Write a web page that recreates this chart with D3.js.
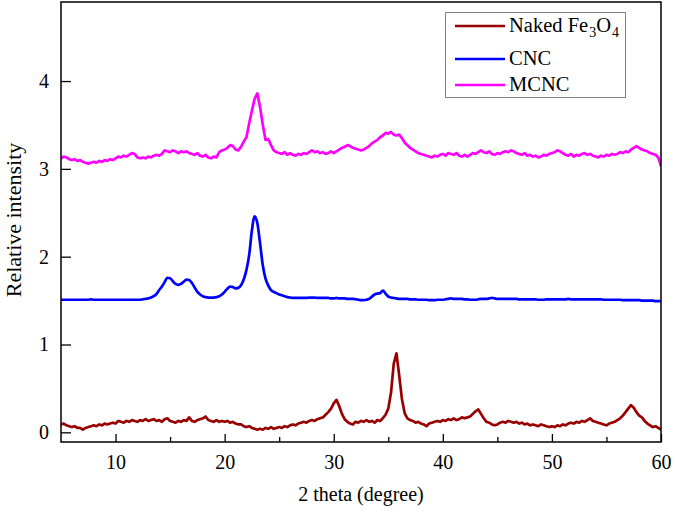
<!DOCTYPE html>
<html><head><meta charset="utf-8">
<script src="https://cdn.jsdelivr.net/npm/d3@7"></script>
<style>
html,body{margin:0;padding:0;background:#fff;}
svg{display:block;}
svg text{font-family:"Liberation Serif","DejaVu Serif","Times New Roman",Times,serif !important;}
</style></head>
<body><svg id="chart" width="675" height="519"></svg>
<script>
// x categories: 2 theta (degree), 5 to 60 in 0.25 steps
const twoTheta = [
5,5.25,5.5,5.75,6,6.25,6.5,6.75,7,7.25,7.5,7.75,8,8.25,8.5,8.75,9,9.25,9.5,9.75,
10,10.25,10.5,10.75,11,11.25,11.5,11.75,12,12.25,12.5,12.75,13,13.25,13.5,13.75,14,14.25,14.5,14.75,
15,15.25,15.5,15.75,16,16.25,16.5,16.75,17,17.25,17.5,17.75,18,18.25,18.5,18.75,19,19.25,19.5,19.75,
20,20.25,20.5,20.75,21,21.25,21.5,21.75,22,22.25,22.5,22.75,23,23.25,23.5,23.75,24,24.25,24.5,24.75,
25,25.25,25.5,25.75,26,26.25,26.5,26.75,27,27.25,27.5,27.75,28,28.25,28.5,28.75,29,29.25,29.5,29.75,
30,30.25,30.5,30.75,31,31.25,31.5,31.75,32,32.25,32.5,32.75,33,33.25,33.5,33.75,34,34.25,34.5,34.75,
35,35.25,35.5,35.75,36,36.25,36.5,36.75,37,37.25,37.5,37.75,38,38.25,38.5,38.75,39,39.25,39.5,39.75,
40,40.25,40.5,40.75,41,41.25,41.5,41.75,42,42.25,42.5,42.75,43,43.25,43.5,43.75,44,44.25,44.5,44.75,
45,45.25,45.5,45.75,46,46.25,46.5,46.75,47,47.25,47.5,47.75,48,48.25,48.5,48.75,49,49.25,49.5,49.75,
50,50.25,50.5,50.75,51,51.25,51.5,51.75,52,52.25,52.5,52.75,53,53.25,53.5,53.75,54,54.25,54.5,54.75,
55,55.25,55.5,55.75,56,56.25,56.5,56.75,57,57.25,57.5,57.75,58,58.25,58.5,58.75,59,59.25,59.5,59.75,
60];

const nakedFe3O4 = [
0.09,0.10,0.08,0.07, 0.06,0.07,0.05,0.05, 0.03,0.05,0.06,0.07, 0.08,0.07,0.09,0.08, 0.10,0.09,0.10,0.11,
0.10,0.13,0.12,0.11, 0.13,0.12,0.14,0.13, 0.12,0.14,0.13,0.15, 0.13,0.14,0.15,0.13, 0.14,0.12,0.15,0.16,
0.13,0.12,0.11,0.13, 0.12,0.14,0.13,0.17, 0.13,0.12,0.14,0.15, 0.16,0.18,0.14,0.13, 0.12,0.14,0.12,0.13,
0.12,0.13,0.11,0.12, 0.10,0.09,0.09,0.07, 0.06,0.07,0.05,0.04, 0.03,0.04,0.03,0.05, 0.04,0.06,0.04,0.05,
0.06,0.05,0.07,0.06, 0.08,0.09,0.08,0.10, 0.11,0.12,0.11,0.13, 0.14,0.13,0.15,0.16, 0.17,0.20,0.23,0.27,
0.33,0.37,0.30,0.21, 0.15,0.12,0.10,0.09, 0.12,0.11,0.13,0.12, 0.14,0.12,0.13,0.11, 0.14,0.13,0.16,0.20,
0.27,0.45,0.78,0.90, 0.65,0.38,0.22,0.16, 0.14,0.13,0.11,0.12, 0.10,0.09,0.07,0.10, 0.11,0.12,0.13,0.12,
0.14,0.13,0.15,0.14, 0.16,0.14,0.15,0.17, 0.16,0.17,0.18,0.21, 0.24,0.26,0.21,0.16, 0.12,0.11,0.09,0.08,
0.09,0.11,0.12,0.11, 0.13,0.12,0.11,0.12, 0.10,0.11,0.09,0.10, 0.08,0.09,0.08,0.07, 0.09,0.08,0.07,0.06,
0.07,0.06,0.08,0.07, 0.09,0.08,0.10,0.11, 0.10,0.12,0.11,0.13, 0.12,0.14,0.16,0.13, 0.12,0.11,0.10,0.09,
0.08,0.10,0.11,0.12, 0.14,0.16,0.19,0.23, 0.27,0.31,0.28,0.23, 0.19,0.17,0.13,0.10, 0.08,0.06,0.07,0.05,
0.03];

const cnc = [
1.51,1.51,1.51,1.51, 1.51,1.51,1.51,1.51, 1.51,1.51,1.51,1.515, 1.51,1.51,1.51,1.51, 1.51,1.51,1.51,1.51,
1.51,1.51,1.51,1.51, 1.51,1.51,1.51,1.51, 1.51,1.51,1.515,1.52, 1.525,1.535,1.55,1.575, 1.62,1.66,1.71,1.76,
1.755,1.72,1.69,1.68, 1.69,1.715,1.74,1.735, 1.70,1.65,1.60,1.57, 1.55,1.54,1.535,1.535, 1.535,1.54,1.55,1.57,
1.60,1.635,1.66,1.655, 1.64,1.645,1.675,1.74, 1.85,2.02,2.30,2.46, 2.38,2.15,1.90,1.75, 1.67,1.62,1.60,1.585,
1.57,1.56,1.55,1.54, 1.535,1.53,1.53,1.53, 1.53,1.53,1.53,1.535, 1.535,1.535,1.53,1.53, 1.53,1.53,1.53,1.525,
1.525,1.53,1.525,1.525, 1.525,1.52,1.52,1.52, 1.515,1.51,1.505,1.505, 1.51,1.52,1.545,1.57, 1.58,1.585,1.615,1.58,
1.545,1.535,1.53,1.525, 1.52,1.52,1.52,1.52, 1.515,1.515,1.515,1.51, 1.51,1.51,1.51,1.505, 1.505,1.505,1.51,1.51,
1.51,1.515,1.52,1.525, 1.52,1.52,1.52,1.52, 1.515,1.515,1.51,1.51, 1.51,1.515,1.52,1.52, 1.52,1.525,1.53,1.525,
1.52,1.52,1.52,1.52, 1.52,1.52,1.52,1.52, 1.515,1.515,1.515,1.515, 1.515,1.515,1.515,1.51, 1.51,1.51,1.515,1.515,
1.515,1.515,1.515,1.515, 1.515,1.515,1.52,1.515, 1.515,1.515,1.515,1.515, 1.515,1.515,1.515,1.515, 1.515,1.515,1.515,1.51,
1.51,1.51,1.51,1.51, 1.51,1.51,1.505,1.505, 1.505,1.505,1.505,1.505, 1.505,1.50,1.50,1.50, 1.50,1.50,1.495,1.495,
1.495];

const mcnc = [
3.12,3.14,3.13,3.11, 3.10,3.11,3.09,3.10, 3.08,3.07,3.06,3.07, 3.08,3.07,3.09,3.08, 3.10,3.09,3.11,3.10,
3.12,3.14,3.13,3.15, 3.14,3.16,3.18,3.17, 3.13,3.12,3.13,3.12, 3.14,3.13,3.15,3.16, 3.15,3.17,3.21,3.20,
3.19,3.21,3.20,3.18, 3.20,3.19,3.20,3.18, 3.17,3.16,3.18,3.15, 3.14,3.16,3.13,3.12, 3.14,3.13,3.19,3.21,
3.22,3.24,3.27,3.26, 3.22,3.21,3.25,3.31, 3.36,3.52,3.66,3.80, 3.86,3.70,3.50,3.33, 3.34,3.27,3.21,3.19,
3.18,3.17,3.19,3.16, 3.18,3.16,3.15,3.17, 3.16,3.18,3.17,3.19, 3.21,3.19,3.20,3.18, 3.19,3.17,3.18,3.20,
3.18,3.20,3.22,3.24, 3.25,3.27,3.26,3.24, 3.23,3.22,3.21,3.22, 3.24,3.26,3.29,3.31, 3.33,3.36,3.38,3.41,
3.40,3.42,3.39,3.38, 3.39,3.35,3.30,3.27, 3.24,3.22,3.20,3.18, 3.17,3.16,3.15,3.14, 3.13,3.15,3.14,3.16,
3.17,3.15,3.18,3.17, 3.16,3.18,3.15,3.14, 3.16,3.14,3.16,3.18, 3.17,3.19,3.21,3.19, 3.18,3.20,3.17,3.16,
3.18,3.17,3.19,3.20, 3.19,3.21,3.20,3.18, 3.17,3.16,3.18,3.15, 3.16,3.14,3.15,3.13, 3.14,3.16,3.15,3.17,
3.18,3.19,3.21,3.20, 3.18,3.16,3.15,3.17, 3.14,3.16,3.15,3.17, 3.18,3.16,3.17,3.15, 3.14,3.13,3.15,3.14,
3.16,3.15,3.17,3.16, 3.17,3.19,3.18,3.20, 3.19,3.22,3.24,3.26, 3.24,3.22,3.21,3.20, 3.18,3.17,3.16,3.13,
3.03];

const seriesNames = ["Naked Fe3O4", "CNC", "MCNC"];
const seriesColors = ["#990000", "#0000ff", "#ff00ff"];
const xMajorTicks = [10, 20, 30, 40, 50, 60];
const xMinorTicks = [15, 25, 35, 45, 55];
const yTicks = [0, 1, 2, 3, 4];

const FONT = "'Liberation Serif', 'DejaVu Serif', 'Times New Roman', serif";
const W = 675, H = 519;
const margin = {left: 61, right: 14, top: 2, bottom: 77};
const iw = W - margin.left - margin.right, ih = H - margin.top - margin.bottom;

const svg = d3.select("#chart");
const g = svg.append("g").attr("transform", `translate(${margin.left},${margin.top})`);

const x = d3.scaleLinear().domain([5, 60]).range([0, iw]);
const y = d3.scaleLinear().domain([-0.11, 4.9]).range([ih, 0]);

g.append("defs").append("clipPath").attr("id", "clip")
  .append("rect").attr("width", iw).attr("height", ih);

const data = [nakedFe3O4, cnc, mcnc];
const line = d3.line().x(d => x(d[0])).y(d => y(d[1]));
data.forEach((vals, i) => {
  const pts = twoTheta.map((t, k) => [t, vals[k]]);
  g.append("path")
    .datum(pts)
    .attr("clip-path", "url(#clip)")
    .attr("fill", "none")
    .attr("stroke", seriesColors[i])
    .attr("stroke-width", 2.7)
    .attr("stroke-linejoin", "round")
    .attr("d", i === 1 ? line.curve(d3.curveMonotoneX)(pts) : line.curve(d3.curveLinear)(pts));
});

// axes
const tickFont = 20;
const xAxis = g.append("g").attr("transform", `translate(0,${ih})`)
  .call(d3.axisBottom(x).tickValues(xMajorTicks).tickSize(-8).tickPadding(13).tickFormat(d3.format("d")));
const xMinor = g.append("g").attr("transform", `translate(0,${ih})`)
  .call(d3.axisBottom(x).tickValues(xMinorTicks).tickSize(-5).tickFormat(""));
const yAxis = g.append("g")
  .call(d3.axisLeft(y).tickValues(yTicks).tickSize(-10).tickPadding(12).tickFormat(d3.format("d")));
[xAxis, xMinor, yAxis].forEach(a => {
  a.attr("font-family", FONT);
  a.select(".domain").remove();
  a.selectAll("line").attr("stroke", "#000").attr("stroke-width", 1.3);
  a.selectAll("text").attr("font-family", FONT).attr("font-size", tickFont).attr("fill", "#000");
});

// frame
g.append("rect").attr("width", iw).attr("height", ih)
  .attr("fill", "none").attr("stroke", "#000").attr("stroke-width", 1.5);

// axis titles
svg.append("text").attr("x", margin.left + iw / 2).attr("y", 501)
  .attr("font-family", FONT)
  .attr("text-anchor", "middle").attr("font-size", 20).text("2 theta (degree)");
svg.append("text").attr("transform", `translate(21,${margin.top + 218}) rotate(-90)`)
  .attr("font-family", FONT)
  .attr("text-anchor", "middle").attr("font-size", 22).text("Relative intensity");

// legend
const lg = svg.append("g");
lg.append("rect").attr("x", 445.5).attr("y", 12.5).attr("width", 180).attr("height", 85)
  .attr("fill", "#fff").attr("stroke", "#808080").attr("stroke-width", 1);
const rowsY = [26, 59, 85];
seriesNames.forEach((name, i) => {
  lg.append("line").attr("x1", 455).attr("x2", 505).attr("y1", rowsY[i]).attr("y2", rowsY[i])
    .attr("stroke", seriesColors[i]).attr("stroke-width", 2.4);
  const t = lg.append("text").attr("x", 509).attr("y", rowsY[i] + 6)
    .attr("font-family", FONT).attr("font-size", 20.5);
  if (i === 0) {
    t.append("tspan").text("Naked Fe");
    t.append("tspan").attr("font-size", 14).attr("dy", 5).attr("dx", 1).text("3");
    t.append("tspan").attr("dy", -5).text("O");
    t.append("tspan").attr("font-size", 14).attr("dy", 5).attr("dx", 1).text("4");
  } else {
    t.text(name);
  }
});
</script></body></html>
